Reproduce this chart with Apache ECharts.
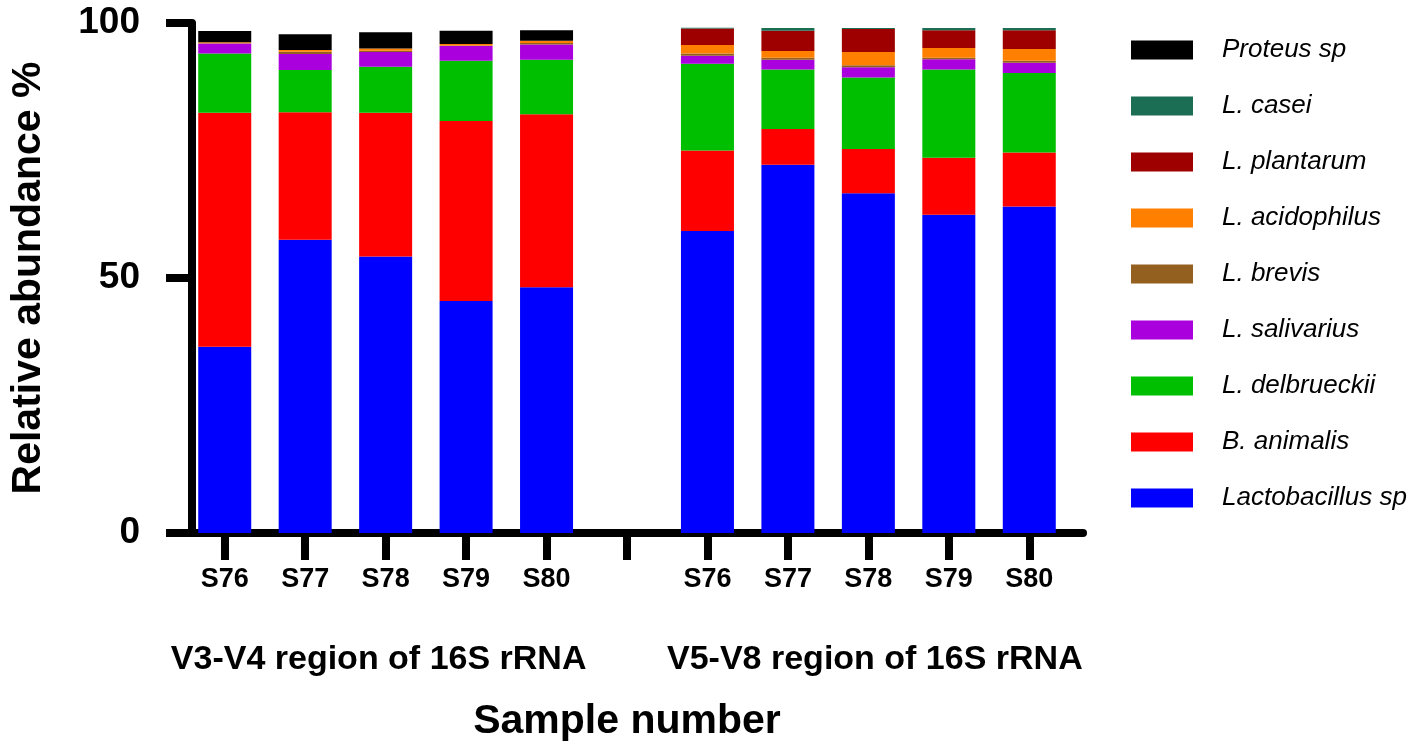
<!DOCTYPE html>
<html><head><meta charset="utf-8">
<script src="https://cdn.jsdelivr.net/npm/echarts@6/dist/echarts.min.js"></script>
<style>html,body{margin:0;padding:0;background:#fff}#c{width:1418px;height:752px}</style>
</head><body><div id="c"></div>
<script>
const categories = ['S76','S77','S78','S79','S80','','S76','S77','S78','S79','S80'];
const groups = ['V3-V4 region of 16S rRNA','V5-V8 region of 16S rRNA'];
const yTicks = [0, 50, 100];
const lactobacillus = [36.5,57.5,54.2,45.5,48.2,null,59.2,72.2,66.6,62.4,64.0];
const animalis      = [45.9,25.0,28.2,35.3,33.9,null,15.8,7.0,8.7,11.2,10.6];
const delbrueckii   = [11.6,8.3,9.0,11.8,10.7,null,17.0,11.7,14.0,17.3,15.6];
const salivarius    = [2.0,3.1,2.9,2.9,3.0,null,1.6,1.9,2.0,2.0,2.0];
const brevis        = [0.05,0.45,0.25,0.1,0.3,null,0.4,0.4,0.4,0.3,0.4];
const acidophilus   = [0.2,0.35,0.45,0.3,0.4,null,1.7,1.3,2.6,1.9,2.3];
const plantarum     = [0,0,0,0,0,null,3.2,4.0,4.5,3.5,3.7];
const casei         = [0,0,0,0,0,null,0.15,0.5,0.2,0.4,0.4];
const proteus       = [2.2,3.1,3.2,2.6,2.1,null,0,0,0,0,0];

const seriesDefs = [
  ['Lactobacillus sp', lactobacillus, '#0000ff'],
  ['B. animalis', animalis, '#ff0000'],
  ['L. delbrueckii', delbrueckii, '#00bf00'],
  ['L. salivarius', salivarius, '#aa00dd'],
  ['L. brevis', brevis, '#946020'],
  ['L. acidophilus', acidophilus, '#ff8000'],
  ['L. plantarum', plantarum, '#9e0000'],
  ['L. casei', casei, '#1b6d54'],
  ['Proteus sp', proteus, '#000000']
];

// group label positions: middle category of each group
const groupLabels = categories.map(() => '');
{
  let gi = 0, start = 0;
  for (let i = 0; i <= categories.length; i++) {
    if (i === categories.length || categories[i] === '') {
      groupLabels[Math.floor((start + i - 1) / 2)] = '{g' + gi + '|' + groups[gi] + '}';
      gi++;
      start = i + 1;
    }
  }
}

const FF = "'Liberation Sans', Arial, sans-serif";
const gStyle = { fontSize: 34, fontWeight: 'bold', color: '#000', fontFamily: FF };
const chart = echarts.init(document.getElementById('c'));
chart.setOption({
  animation: false,
  textStyle: { fontFamily: FF, color: '#000' },
  grid: [
    { left: 171, right: 335, top: 23, bottom: 219 },
    { left: 184.5, right: 348.5, top: 23, bottom: 219 }
  ],
  xAxis: [
    { type: 'value', gridIndex: 0, min: 0, max: 1, splitLine: { show: false },
      axisLine: { show: true, lineStyle: { color: '#000', width: 8 } },
      axisTick: { show: false }, axisLabel: { show: false } },
    { type: 'category', gridIndex: 1, data: categories,
      axisLine: { show: false },
      axisTick: { show: true, alignWithLabel: true, length: 27, lineStyle: { color: '#000', width: 8 } },
      axisLabel: { interval: 0, margin: 33, fontSize: 27, fontWeight: 'bold', color: '#000', fontFamily: FF } },
    { type: 'category', gridIndex: 1, data: categories, position: 'bottom',
      axisLine: { show: false }, axisTick: { show: false },
      axisLabel: { interval: 0, margin: 110, fontSize: 34, fontWeight: 'bold', color: '#000', fontFamily: FF,
        formatter: (v, i) => groupLabels[i],
        rich: {
          g0: Object.assign({ padding: [0, 14, 0, 0] }, gStyle),
          g1: Object.assign({ padding: [0, 0, 0, 13] }, gStyle)
        } },
      name: 'Sample number', nameLocation: 'middle', nameGap: 168,
      nameTextStyle: { fontSize: 41, fontWeight: 'bold', color: '#000', fontFamily: FF } }
  ],
  yAxis: [
    { type: 'value', gridIndex: 0, min: yTicks[0], max: yTicks[yTicks.length - 1], interval: 50,
      splitLine: { show: false },
      axisLine: { show: true, lineStyle: { color: '#000', width: 8 } },
      axisTick: { show: true, length: 26, lineStyle: { color: '#000', width: 8 } },
      axisLabel: { margin: 52, fontSize: 37, fontWeight: 'bold', color: '#000', fontFamily: FF },
      name: 'Relative abundance %', nameLocation: 'middle', nameGap: 143,
      nameTextStyle: { fontSize: 41, fontWeight: 'bold', color: '#000', fontFamily: FF } },
    { type: 'value', gridIndex: 1, min: 0, max: 100, show: false }
  ],
  legend: {
    orient: 'vertical', left: 1126, top: 32, itemWidth: 62, itemHeight: 19, itemGap: 30,
    icon: 'rect',
    data: seriesDefs.map(s => s[0]).reverse(),
    textStyle: { fontSize: 26, fontStyle: 'italic', color: '#000', fontFamily: FF, padding: [0, 0, 0, 24], lineHeight: 26 }
  },
  series: seriesDefs.map(([name, data, color]) => ({
    name, type: 'bar', stack: 'all', data, xAxisIndex: 1, yAxisIndex: 1,
    barWidth: 53, itemStyle: { color }
  }))
});
</script></body></html>
